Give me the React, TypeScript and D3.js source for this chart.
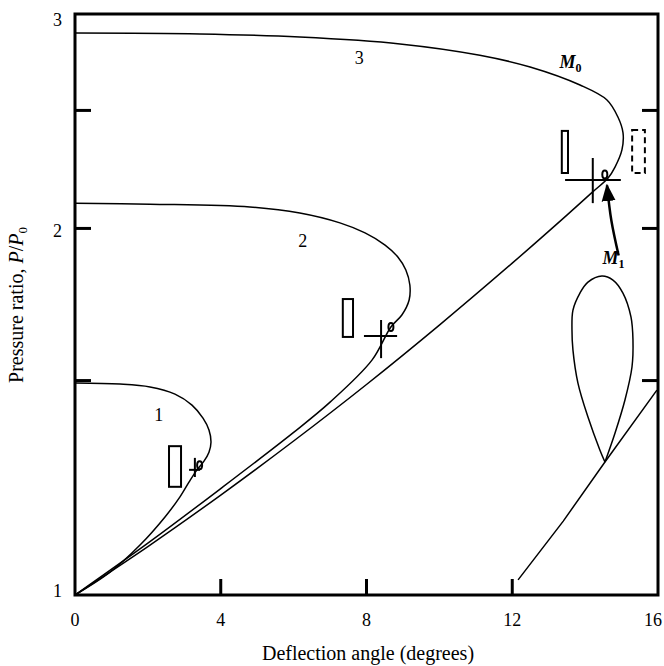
import React from 'react';
import * as d3 from 'd3';

// deflection angle (deg), pressure ratio P/P0
const xTickLabels = [0, 4, 8, 12, 16];
const xInnerTicks = [4, 8, 12];
const yTickLabels = [1, 2, 3];
const yInnerTicks = [1.5, 2, 2.5];

// M0 polars, each drawn from the upper (strong) branch round the nose back to the origin
const polar1: [number, number][] = [
  [0, 1.493], [1.235, 1.49], [2.058, 1.482], [2.744, 1.462], [3.211, 1.432],
  [3.513, 1.397], [3.677, 1.366], [3.732, 1.335], [3.677, 1.31], [3.54, 1.288],
  [3.348, 1.267], [3.128, 1.238], [2.881, 1.204], [2.47, 1.159], [1.784, 1.099],
  [0.96, 1.044], [0, 1],
];
const polar2: [number, number][] = [
  [0, 2.098], [2.06, 2.094], [4.8, 2.083], [6.17, 2.059], [7.27, 2.021],
  [7.96, 1.983], [8.51, 1.938], [8.86, 1.895], [9.08, 1.849], [9.19, 1.797],
  [9.17, 1.747], [8.97, 1.698], [8.67, 1.66], [8.15, 1.559], [7, 1.44],
  [6, 1.36], [4, 1.223], [2, 1.103], [0, 1],
];
const polar3: [number, number][] = [
  [0, 2.894], [3.43, 2.889], [6.17, 2.872], [8.92, 2.835], [11.11, 2.775],
  [12.49, 2.714], [13.86, 2.623], [14.6, 2.55], [14.9, 2.469], [15.04, 2.396],
  [15.01, 2.32], [14.82, 2.246], [14.63, 2.2], [14.2, 2.142], [13.5, 2.051],
  [12, 1.873], [10, 1.666], [8, 1.489], [6, 1.338], [4, 1.208],
  [2, 1.096], [0, 1],
];
// M1 polar: closed loop and the weak branch
const polarM1Loop: [number, number][] = [
  [14.544, 1.286], [14.407, 1.315], [14.078, 1.4], [13.803, 1.493], [13.666, 1.589],
  [13.639, 1.651], [13.666, 1.714], [13.858, 1.77], [14.078, 1.807], [14.462, 1.828],
  [14.764, 1.814], [15.038, 1.77], [15.258, 1.692], [15.313, 1.62], [15.286, 1.539],
  [15.093, 1.446], [14.819, 1.358], [14.544, 1.286],
];
const polarM1Branch: [number, number][] = [
  [12.16, 1.029], [13.4, 1.15], [14.544, 1.286], [15.97, 1.473],
];

// reflection sketches: stems [x0, x1, p0, p1]
const stems: [number, number, number, number][] = [
  [2.58, 2.91, 1.227, 1.325],
  [7.35, 7.63, 1.629, 1.75],
  [13.36, 13.53, 2.221, 2.405],
];
const dashedStems: [number, number, number, number][] = [
  [15.29, 15.64, 2.221, 2.409],
];
// crosses: [xLeft, xRight, p, xVertical, pLow, pHigh]
const crosses: [number, number, number, number, number, number][] = [
  [3.13, 3.43, 1.267, 3.29, 1.25, 1.296],
  [7.93, 8.84, 1.632, 8.4, 1.565, 1.682],
  [13.45, 14.98, 2.192, 14.21, 2.098, 2.285],
];
const smallLoops: [number, number][] = [
  [3.42, 1.278], [8.67, 1.66], [14.54, 2.215],
];
const arrowPath: [number, number][] = [
  [14.92, 1.9], [14.72, 2.03], [14.6, 2.17],
];

const curveLabels: [string, number, number][] = [
  ['1', 2.3, 1.405],
  ['2', 6.25, 1.955],
  ['3', 7.8, 2.76],
];

const W = 664;
const H = 666;
const left = 75, right = 658, top = 14, bottom = 595;

export default function App() {
  const x = d3.scaleLinear().domain([0, 16]).range([left, right]);
  const y = d3.scaleLog().domain([1, 3]).range([bottom, top]);
  const line = d3.line<[number, number]>()
    .x(d => x(d[0]))
    .y(d => y(d[1]))
    .curve(d3.curveCatmullRom.alpha(0.5));
  const straight = d3.line<[number, number]>().x(d => x(d[0])).y(d => y(d[1]));

  const font = '"Liberation Serif", "DejaVu Serif", serif';

  return (
    <div style={{ position: 'absolute', left: 0, top: 0 }}>
      <svg width={W} height={H} style={{ display: 'block', background: '#fff' }}>
        <defs>
          <marker id="head" viewBox="0 0 10 10" refX="9" refY="5" markerWidth="7" markerHeight="7" orient="auto">
            <path d="M0,1 L10,5 L0,9 Z" fill="#000" />
          </marker>
        </defs>

        <g fill="none" stroke="#000" strokeWidth={1.5}>
          <path d={line(polar1) || ''} />
          <path d={line(polar2) || ''} />
          <path d={line(polar3) || ''} />
          <path d={line(polarM1Loop) || ''} />
          <path d={straight(polarM1Branch) || ''} />

          {stems.map((s, i) => (
            <rect key={'s' + i} x={x(s[0])} y={y(s[3])} width={x(s[1]) - x(s[0])} height={y(s[2]) - y(s[3])} strokeWidth={2} />
          ))}
          {dashedStems.map((s, i) => (
            <rect key={'d' + i} x={x(s[0])} y={y(s[3])} width={x(s[1]) - x(s[0])} height={y(s[2]) - y(s[3])} strokeWidth={2} strokeDasharray="6,4" />
          ))}
          {crosses.map((c, i) => (
            <g key={'c' + i}>
              <line x1={x(c[0])} x2={x(c[1])} y1={y(c[2])} y2={y(c[2])} strokeWidth={2} />
              <line x1={x(c[3])} x2={x(c[3])} y1={y(c[4])} y2={y(c[5])} strokeWidth={2} />
            </g>
          ))}
          {smallLoops.map((l, i) => (
            <ellipse key={'l' + i} cx={x(l[0])} cy={y(l[1])} rx={2.5} ry={4} strokeWidth={2} />
          ))}
          <path d={line(arrowPath) || ''} strokeWidth={2.5} markerEnd="url(#head)" />
        </g>

        {/* frame and inward ticks */}
        <g stroke="#000" strokeWidth={3} fill="none">
          <rect x={left} y={top} width={right - left} height={bottom - top} />
          {yInnerTicks.map(v => (
            <g key={'y' + v}>
              <line x1={left} x2={left + 16} y1={y(v)} y2={y(v)} />
              <line x1={right} x2={right - 16} y1={y(v)} y2={y(v)} />
            </g>
          ))}
          {xInnerTicks.map(v => (
            <line key={'x' + v} x1={x(v)} x2={x(v)} y1={bottom} y2={bottom - 16} />
          ))}
        </g>

        <g fontFamily={font} fontSize={18} fill="#000">
          {xTickLabels.map(v => (
            <text key={'xl' + v} x={v === 16 ? x(v) + 4 : x(v)} y={626} textAnchor={v === 16 ? 'end' : 'middle'}>{v}</text>
          ))}
          {yTickLabels.map(v => (
            <text key={'yl' + v} x={62} y={y(v) + (v === 1 ? -4 : v === 3 ? 6 : 2)} textAnchor="end" dy="0.35em">{v}</text>
          ))}
          {curveLabels.map(l => (
            <text key={'cl' + l[0]} x={x(l[1])} y={y(l[2])} textAnchor="middle" dy="0.35em">{l[0]}</text>
          ))}
          <text x={x(13.6)} y={y(2.71)} textAnchor="middle" fontStyle="italic" fontWeight="bold">
            M<tspan fontSize={12} dy={4} fontStyle="normal">0</tspan>
          </text>
          <text x={x(14.78)} y={y(1.87)} textAnchor="middle" fontStyle="italic" fontWeight="bold">
            M<tspan fontSize={12} dy={4} fontStyle="normal">1</tspan>
          </text>
          <text x={368} y={660} textAnchor="middle" fontSize={20}>Deflection angle (degrees)</text>
          <text transform="translate(23,305) rotate(-90)" textAnchor="middle" fontSize={20}>
            Pressure ratio, <tspan fontStyle="italic">P</tspan>/<tspan fontStyle="italic">P</tspan><tspan fontSize={13} dy={4}>0</tspan>
          </text>
        </g>
      </svg>
    </div>
  );
}
